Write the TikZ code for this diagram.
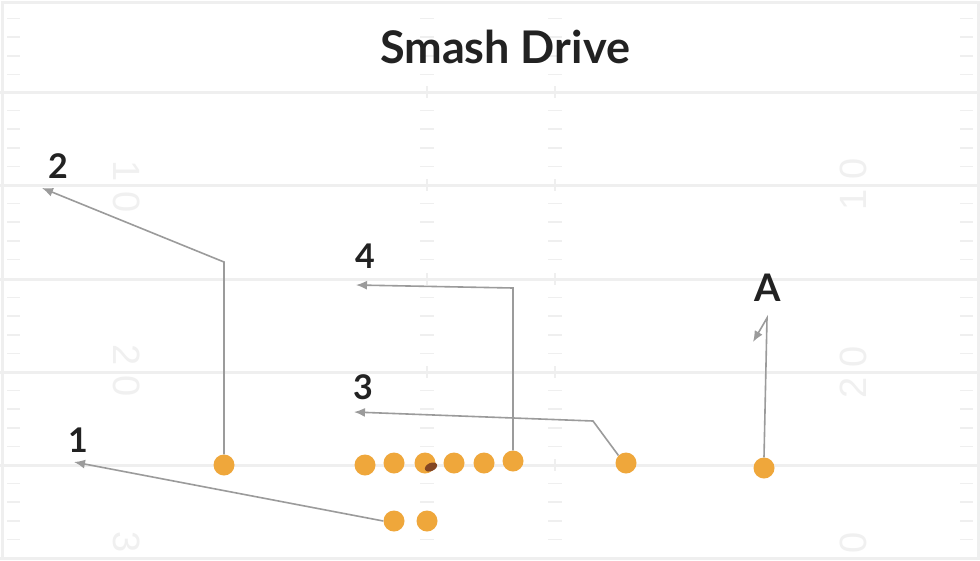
\documentclass[tikz,border=0pt]{standalone}
\usepackage{fontspec}
\setmainfont{Lato}
\newfontfamily\fieldfont{Liberation Sans}
\usetikzlibrary{arrows.meta}
\definecolor{playerorange}{RGB}{239,167,59}
\definecolor{routegray}{RGB}{155,155,155}
\definecolor{labeldark}{RGB}{34,34,34}
\definecolor{fieldline}{RGB}{239,239,239}
\definecolor{fieldnum}{RGB}{240,240,240}
\definecolor{ballbrown}{RGB}{130,70,35}
\tikzset{
  player/.style={circle,fill=playerorange,draw=none,minimum size=21pt,inner sep=0pt},
  route/.style={draw=routegray,line width=1.6pt,-{Latex[length=11pt,width=9pt]}},
  routelabel/.style={text=labeldark,font=\fontsize{34}{34}\selectfont\bfseries,inner sep=0pt},
  yardline/.style={draw=fieldline,line width=3pt},
  hashmark/.style={draw=fieldline,line width=1.5pt},
  fieldnumber/.style={text=fieldnum,font=\fieldfont\fontsize{38}{38}\selectfont,inner sep=0pt}
}
\begin{document}
\begin{tikzpicture}[x=1pt,y=-1pt]
\useasboundingbox (0,0) rectangle (980,560);
\fill[white] (0,0) rectangle (980,560);
% border
\draw[yardline] (2,2) rectangle (978,558);
% yard lines
\foreach \y in {92,185,279,372,465,558} {
  \draw[yardline] (0,\y) -- (980,\y);
}
% hash marks
\foreach \y in {0,92,185,279,372,465} {
  \foreach \k in {1,2,3,4} {
    \pgfmathsetmacro{\yy}{\y+18.6*\k}
    \draw[hashmark] (7,\yy) -- (20,\yy);
    \draw[hashmark] (960,\yy) -- (973,\yy);
    \draw[hashmark] (420,\yy) -- (434,\yy);
    \draw[hashmark] (548,\yy) -- (562,\yy);
  }
}
\foreach \y in {92,185,279,372,465} {
  \draw[hashmark] (427,\y-6) -- (427,\y+6);
  \draw[hashmark] (555,\y-6) -- (555,\y+6);
}
% field numbers
\node[fieldnumber,rotate=-90] (n10l) at (127,187) {1\hspace{10pt}0};
\node[fieldnumber,rotate=90] (n10r) at (853,184) {1\hspace{10pt}0};
\node[fieldnumber,rotate=-90] (n20l) at (127,371) {2\hspace{10pt}0};
\node[fieldnumber,rotate=90] (n20r) at (853,372) {2\hspace{10pt}0};
\node[fieldnumber,rotate=-90] (n30l) at (127,558) {3\hspace{10pt}0};
\node[fieldnumber,rotate=90] (n30r) at (853,558) {3\hspace{10pt}0};
% title
\node[text=labeldark,font=\fontsize{45}{45}\selectfont\bfseries] (title) at (505,47) {Smash Drive};
% players
\node[player] (p2) at (224,465) {};
\node[player] (ol1) at (365,465) {};
\node[player] (ol2) at (394,463) {};
\node[player] (ctr) at (425,463) {};
\node[player] (ol4) at (454,463) {};
\node[player] (ol5) at (484,463) {};
\node[player] (p4) at (513,461) {};
\node[player] (p3) at (626,463) {};
\node[player] (pA) at (764,468) {};
\node[player] (p1) at (394,521) {};
\node[player] (rb) at (427,521) {};
% ball
\fill[ballbrown,rotate around={25:(431,467)}] (431,467) ellipse (6.5pt and 4pt);
% route corners and ends
\coordinate (c2) at (224,262);
\coordinate (e2) at (42,188);
\coordinate (c4) at (513,288);
\coordinate (e4) at (356,285);
\coordinate (c3) at (593,421);
\coordinate (e3) at (354,412);
\coordinate (e1) at (74,462);
\coordinate (cA) at (767,318);
\coordinate (eA) at (753,342);
% routes
\draw[route] (p2.north) -- (c2) -- (e2);
\draw[route] (p4.north) -- (c4) -- (e4);
\draw[route] (p3.north west) -- (c3) -- (e3);
\draw[route] (p1.west) -- (e1);
\draw[route] (pA.north) -- (cA) -- (eA);
% labels
\node[routelabel] (l2) at (58,166) {2};
\node[routelabel] (l4) at (365,256) {4};
\node[routelabel] (l3) at (363,387) {3};
\node[routelabel] (l1) at (78,440) {1};
\node[text=labeldark,font=\fontsize{38}{38}\selectfont\bfseries,inner sep=0pt] (lA) at (768,288) {A};
\end{tikzpicture}
\end{document}
